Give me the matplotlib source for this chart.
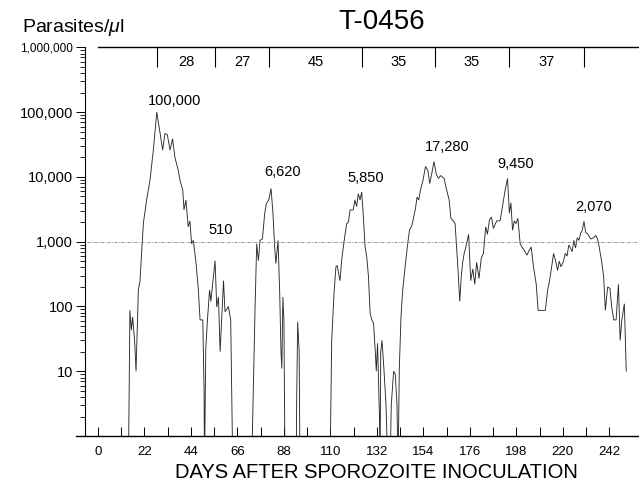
import numpy as np
import matplotlib
matplotlib.use("Agg")
import matplotlib.pyplot as plt
from matplotlib.ticker import FixedLocator, FixedFormatter, LogLocator, NullFormatter

# ---------------- data ----------------
days = [
    14.4, 15.1, 15.8, 16.4, 17.4, 18.0, 19.1, 19.9, 20.7, 21.5, 23.0, 24.6, 26.2, 27.8,
    29.4, 30.6, 31.7, 32.8, 34.1, 35.3, 36.4, 38.0, 38.8, 40.1, 40.7, 41.6, 42.7, 43.5,
    44.3, 45.1, 46.4, 47.5, 48.3, 49.6, 50.2, 50.4, 51.0, 51.8, 52.8, 53.4, 54.3, 55.4,
    56.2, 57.0, 57.8, 59.4, 60.1, 60.9, 61.7, 62.8, 63.8,
    72.7, 74.3, 75.1, 75.9, 76.7, 77.8, 78.9, 79.7, 80.8, 81.9, 82.8, 83.6, 84.2, 85.2,
    86.0, 86.6, 87.0, 87.5, 88.0, 88.5,
    93.8, 94.0, 94.5, 95.2, 95.6,
    109.8, 110.6, 111.7, 112.6, 113.2, 114.5, 115.3, 116.1, 117.0, 117.7, 118.5, 119.3,
    120.8, 121.6, 122.4, 123.2, 124.0, 124.8, 125.6, 126.4, 127.2, 128.0, 128.8, 129.6,
    130.4, 131.2, 131.7, 132.3, 133.2, 133.5, 133.8, 134.4, 135.3, 136.3, 137.2, 138.2,
    138.8, 139.9, 140.7, 141.5, 142.0,
    142.6, 143.4, 144.2, 145.2, 146.2, 147.4, 148.6, 150.2, 151.0, 151.8, 152.6, 153.8,
    155.0, 156.1, 157.0, 157.9, 159.0, 160.1, 161.1, 162.2, 163.8, 164.6, 166.2, 167.0,
    168.1, 169.0, 169.6, 170.3, 171.2, 171.9, 172.5, 173.3, 174.1, 175.4, 176.4, 177.4,
    178.3, 179.2, 180.3, 181.4, 182.4, 183.5, 184.3, 185.3, 186.2, 187.1, 188.7, 190.3,
    191.9, 192.7, 193.8, 194.7, 195.4, 196.2, 197.0, 197.8, 198.7, 199.8, 200.6, 201.7,
    203.0, 204.1, 205.0, 206.1, 207.4, 208.3, 211.7, 212.8, 213.7, 214.7, 215.6, 216.6,
    217.5, 218.3, 219.1, 220.3, 221.1, 222.0, 222.8, 223.6, 224.4, 225.2, 226.0, 226.8,
    227.6, 228.4, 229.2, 230.0, 230.8, 231.9, 233.2, 234.5, 235.6, 236.4, 237.2, 238.3,
    239.3, 240.1, 241.2, 242.3, 243.1, 244.1, 245.2, 246.3, 247.1, 247.9, 249.1, 250.0,
]
parasites = [
    0, 87, 43, 69, 27, 10, 180, 250, 740, 1950, 4400, 8900, 26000, 100000,
    47000, 26000, 47000, 45000, 26000, 39000, 20000, 12600, 8900, 6300, 3100, 4400, 1700, 2100,
    930, 1050, 470, 180, 62, 62, 5, 0, 22, 62, 180, 120, 230, 510,
    98, 140, 20, 250, 83, 90, 100, 62, 0,
    0, 87, 930, 510, 1050, 1100, 2750, 3900, 4400, 6620, 2750, 830, 460, 1050,
    160, 20, 11, 140, 60, 0,
    0, 3, 58, 20, 0,
    0, 30, 160, 410, 430, 250, 510, 830, 1350, 1900, 2000, 3100,
    3100, 4400, 3500, 5500, 4400, 5850, 2400, 830, 575, 290, 78, 62,
    55, 21, 10, 27, 2, 0, 20, 30, 11, 3, 0, 0,
    3, 10, 9, 3, 0,
    11, 70, 180, 360, 740, 1500, 1800, 3200, 4900, 4400, 6300, 8900,
    14500, 12600, 7900, 11000, 17280, 11000, 9500, 10500, 9500, 7100, 4400, 2300,
    2100, 1900, 930, 410, 120, 280, 460, 660, 830, 1300, 250, 380,
    220, 480, 270, 560, 660, 1700, 1300, 2200, 2400, 1600, 2100, 2100,
    4400, 6300, 9450, 2750, 4000, 1500, 2100, 1900, 2300, 930, 830, 740,
    620, 740, 830, 410, 220, 87, 87, 180, 250, 410, 660, 500,
    360, 500, 410, 500, 660, 600, 890, 800, 700, 1050, 800, 1150,
    1050, 1350, 1500, 2070, 1400, 1300, 1100, 1150, 1250, 1100, 830, 510,
    290, 87, 200, 190, 98, 62, 62, 220, 30, 62, 110, 10,
]
peak_labels = ["100,000", "510", "6,620", "5,850", "17,280", "9,450", "2,070"]
peak_label_pos = [(36.2, 1.48e5), (58.2, 1.51e3), (87.2, 1.2e4), (126.9, 9.5e3),
                  (165.4, 2.95e4), (197.8, 1.58e4), (234.7, 3.47e3)]
divider_days = [28, 55.5, 81, 125, 159.5, 194.5, 230]
interval_labels = ["28", "27", "45", "35", "35", "37"]
y_ticks = [10, 100, 1000, 10000, 100000, 1000000]
y_ticklabels = ["10", "100", "1,000", "10,000", "100,000", "1,000,000"]
x_ticks = list(range(0, 243, 11))
x_ticklabels = [str(d) if d % 22 == 0 else "" for d in x_ticks]

# ---------------- figure ----------------
plt.rcParams['font.family'] = ['Liberation Sans', 'DejaVu Sans']
plt.rcParams['mathtext.fontset'] = 'custom'
plt.rcParams['mathtext.rm'] = 'Liberation Sans'
plt.rcParams['mathtext.it'] = 'Liberation Sans:italic'

W, H = 639, 487
fig = plt.figure(figsize=(W / 100, H / 100), dpi=100)
ax = fig.add_axes([76 / W, 51 / H, 562 / W, 388.6 / H])

x0, x1 = -10.41, 255.56
ax.set_xlim(x0, x1)
ax.set_yscale('log')
ax.set_ylim(1, 1e6)

d = np.array(days)
p = np.array(parasites, dtype=float)
p_plot = np.where(p > 0, p, 0.3)
ax.plot(d, p_plot, color='#2a2a2a', lw=0.65, solid_joinstyle='miter')

# reference line at 1,000
ax.axhline(1000, xmin=(-5.2 - x0) / (x1 - x0), xmax=1, color='#888888', lw=0.6,
           linestyle=(0, (4, 1.5, 1, 1.5)))

# spines
ax.spines['right'].set_visible(False)
ax.spines['left'].set_position(('data', -6.15))
ax.spines['left'].set_linewidth(0.8)
ax.spines['bottom'].set_linewidth(1.0)
ax.spines['top'].set_bounds(0, x1)
ax.spines['top'].set_linewidth(1.0)

# y ticks
ax.yaxis.set_major_locator(FixedLocator(y_ticks))
ax.yaxis.set_major_formatter(FixedFormatter(y_ticklabels))
ax.yaxis.set_minor_locator(LogLocator(base=10, subs=np.arange(2, 10)))
ax.yaxis.set_minor_formatter(NullFormatter())
ax.tick_params(axis='y', which='major', direction='out', length=6.5, width=0.7,
               labelsize=10.5, pad=2)
ax.tick_params(axis='y', which='minor', direction='out', length=3.5, width=0.6)
for lbl in ax.get_yticklabels():
    if lbl.get_text() == "1,000,000":
        lbl.set_fontsize(8.5)

# x ticks
ax.xaxis.set_major_locator(FixedLocator(x_ticks))
ax.xaxis.set_major_formatter(FixedFormatter(x_ticklabels))
ax.tick_params(axis='x', which='major', direction='in', length=6.5, width=0.7,
               labelsize=9.5, pad=7)
ax.tick_params(axis='x', which='minor', bottom=False)

# top dividers and interval labels
ax.vlines(divider_days, 5e5, 1e6, color='black', lw=0.8)
for i, lab in enumerate(interval_labels):
    mid = (divider_days[i] + divider_days[i + 1]) / 2
    ax.text(mid, 6.0e5, lab, ha='center', va='center', fontsize=10.5)

# peak labels
for lab, (xx, yy) in zip(peak_labels, peak_label_pos):
    ax.text(xx, yy, lab, ha='center', va='center', fontsize=10.5)

# titles
fig.text(382 / W, 1 - 22 / H, "T-0456", ha='center', va='center', fontsize=20)
fig.text(22 / W, 1 - 28 / H, "Parasites/$\\mu$l", ha='left', va='center', fontsize=14)
fig.text(376 / W, 1 - 472.7 / H, "DAYS AFTER SPOROZOITE INOCULATION",
         ha='center', va='center', fontsize=14.5)

fig.savefig("out.png", dpi=100)
